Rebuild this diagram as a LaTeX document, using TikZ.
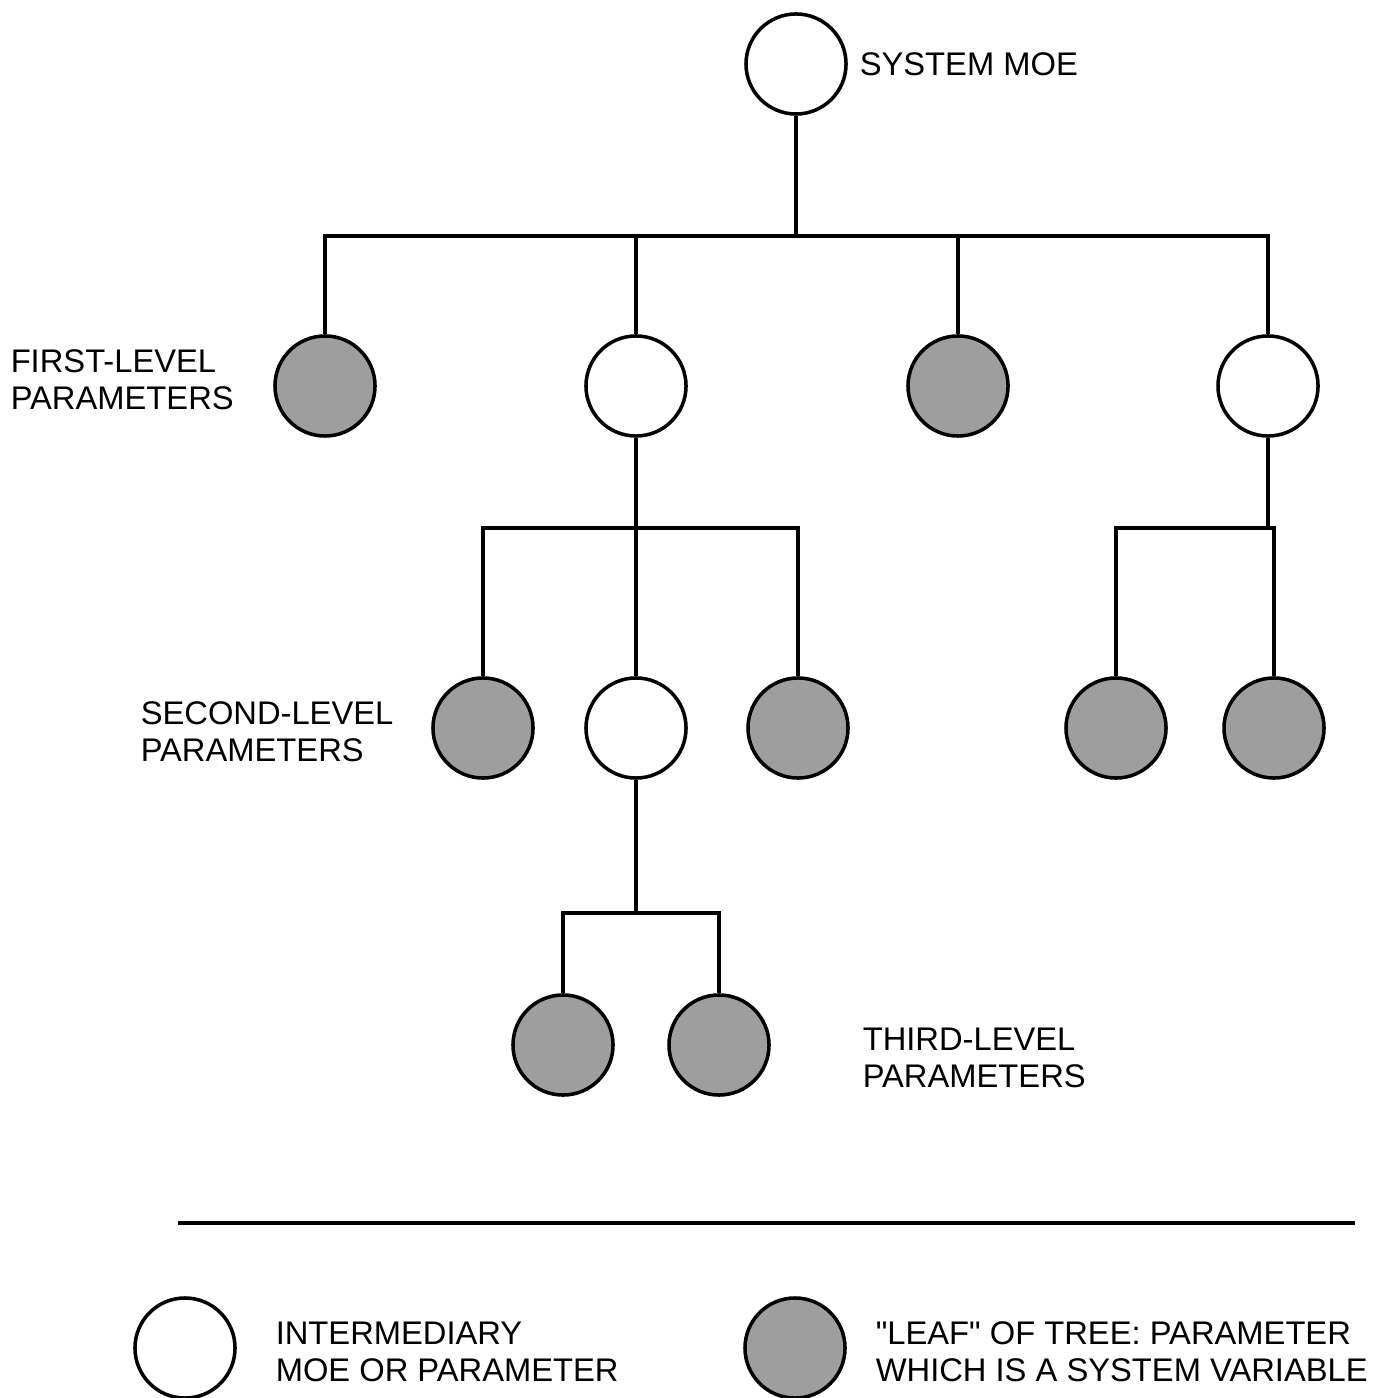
\documentclass[tikz,border=0pt]{standalone}
\usepackage{fontspec}
\setmainfont{Liberation Sans}
\usetikzlibrary{positioning}
\definecolor{leafgray}{rgb}{0.62, 0.62, 0.62}

\begin{document}
\begin{tikzpicture}[x=0.01cm, y=-0.01cm, line width=1pt]
        \tikzstyle{mid} = [circle,draw=black,line width=1pt,fill=white,minimum size=1cm,inner sep=0pt]
        \tikzstyle{leaf} = [mid,fill=leafgray]
        \tikzstyle{lbl} = [align=left,anchor=west,inner sep=0pt,font=\fontsize{9.3}{10.4}\selectfont]

        \useasboundingbox (0,0) rectangle (1376,1398);

        % top of the tree
        \node[mid] (moe) at (796,64){};
        \node[lbl] (moelbl) at (858,64){SYSTEM MOE};

        % first level
        \node[leaf] (f1) at (325,386){};
        \node[mid] (f2) at (636,386){};
        \node[leaf] (f3) at (958,386){};
        \node[mid] (f4) at (1268,386){};

        % second level
        \node[leaf] (s1) at (483,728){};
        \node[mid] (s2) at (636,728){};
        \node[leaf] (s3) at (798,728){};
        \node[leaf] (s4) at (1116,728){};
        \node[leaf] (s5) at (1274,728){};

        % third level
        \node[leaf] (t1) at (563,1045){};
        \node[leaf] (t2) at (719,1045){};

        \coordinate (bar0) at (796,236);
        \coordinate (bar1) at (636,528);
        \coordinate (bar2) at (1268,528);
        \coordinate (bar3) at (636,913);

        \draw (moe) -- (bar0);
        \draw (bar0) -| (f1);
        \draw (bar0) -| (f2);
        \draw (bar0) -| (f3);
        \draw (bar0) -| (f4);

        \draw (f2) -- (bar1);
        \draw (bar1) -| (s1);
        \draw (bar1) -- (s2);
        \draw (bar1) -| (s3);

        \draw (f4) -- (bar2);
        \draw (bar2) -| (s4);
        \draw (bar2) -| (s5);

        \draw (s2) -- (bar3);
        \draw (bar3) -| (t1);
        \draw (bar3) -| (t2);

        % level labels
        \node[lbl] (lvl1) at (9,380){FIRST-LEVEL\\PARAMETERS};
        \node[lbl] (lvl2) at (139,732){SECOND-LEVEL\\PARAMETERS};
        \node[lbl] (lvl3) at (861,1058){THIRD-LEVEL\\PARAMETERS};

        % legend
        \draw (178,1223) -- (1355,1223);
        \node[mid] (legmid) at (185,1348){};
        \node[lbl] (legmidlbl) at (274,1352){INTERMEDIARY\\MOE OR PARAMETER};
        \node[leaf] (legleaf) at (795,1348){};
        \node[lbl] (legleaflbl) at (874,1352){\textquotedbl LEAF\textquotedbl{} OF TREE: PARAMETER\\WHICH IS A SYSTEM VARIABLE};

    \end{tikzpicture}
\end{document}
